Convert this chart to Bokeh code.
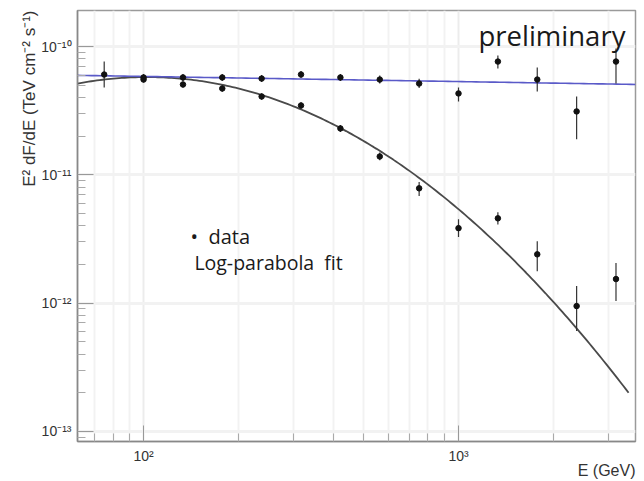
import numpy as np
from bokeh.plotting import figure
from bokeh.models import Range1d, Label, Title, CustomJSTickFormatter, ColumnDataSource, FixedTicker
from bokeh.embed import file_html
from bokeh.resources import INLINE

# ---------------- data ----------------
# energies in GeV (8 bins per decade)
energy_a = [75.0, 100.0, 133.4, 177.8, 237.1, 316.2, 421.7, 562.3, 749.9, 1000.0, 1333.5, 1778.3, 2371.4, 3162.3]
flux_a = [6.05e-11, 5.74e-11, 5.74e-11, 5.74e-11, 5.63e-11, 6.05e-11, 5.74e-11, 5.53e-11, 5.15e-11,
          4.31e-11, 7.64e-11, 5.53e-11, 3.12e-11, 7.64e-11]
flux_a_lo = [4.80e-11, 5.40e-11, 5.40e-11, 5.40e-11, 5.30e-11, 5.70e-11, 5.40e-11, 5.15e-11, 4.75e-11,
             3.73e-11, 6.74e-11, 4.47e-11, 1.89e-11, 5.15e-11]
flux_a_hi = [7.64e-11, 6.10e-11, 6.10e-11, 6.10e-11, 6.00e-11, 6.45e-11, 6.10e-11, 5.95e-11, 5.60e-11,
             4.80e-11, 8.51e-11, 6.86e-11, 4.08e-11, 9.64e-11]

energy_b = [100.0, 133.4, 177.8, 237.1, 316.2, 421.7, 562.3, 749.9, 1000.0, 1333.5, 1778.3, 2371.4, 3162.3]
flux_b = [5.53e-11, 5.06e-11, 4.71e-11, 4.08e-11, 3.47e-11, 2.30e-11, 1.39e-11, 7.85e-12, 3.84e-12,
          4.58e-12, 2.40e-12, 9.48e-13, 1.54e-12]
flux_b_lo = [5.25e-11, 4.80e-11, 4.45e-11, 3.85e-11, 3.27e-11, 2.16e-11, 1.30e-11, 6.83e-12, 3.27e-12,
             4.10e-12, 1.77e-12, 6.05e-13, 1.04e-12]
flux_b_hi = [5.85e-11, 5.35e-11, 5.00e-11, 4.32e-11, 3.68e-11, 2.45e-11, 1.49e-11, 8.79e-12, 4.51e-12,
             5.10e-12, 3.03e-12, 1.36e-12, 2.05e-12]

# fit parameters (E^2 dF/dE = 10^(a + b*u + c*u^2), u = log10(E / 100 GeV))
pl_log_norm, pl_slope = -10.233, -0.040
lp_log_norm, lp_b, lp_c = -10.238, 0.022, -1.052
pl_range = (61.7, 3647.0)
lp_range = (61.7, 3467.0)

x_major = [100, 1000]
x_minor = [70, 80, 90, 200, 300, 400, 500, 600, 700, 800, 900, 2000, 3000]
y_major = [1e-13, 1e-12, 1e-11, 1e-10]
y_minor = [m * d for d in [1e-14, 1e-13, 1e-12, 1e-11, 1e-10] for m in range(2, 10)]

x_label_text = "E (GeV)"
y_label_text = "E² dF/dE (TeV cm⁻² s⁻¹)"

# ---------------- figure ----------------
p = figure(width=644, height=481, x_axis_type="log", y_axis_type="log",
           x_range=Range1d(61.7, 3647.0), y_range=Range1d(8.34e-14, 1.91e-10),
           output_backend="svg", toolbar_location=None,
           min_border_left=77, min_border_right=9, min_border_top=10, min_border_bottom=40)

p.background_fill_color = "white"
p.outline_line_color = "#9a9a9a"
p.outline_line_width = 1.5

p.xaxis.ticker = FixedTicker(ticks=x_major, minor_ticks=x_minor)
p.yaxis.ticker = FixedTicker(ticks=y_major, minor_ticks=y_minor)

p.xgrid.grid_line_color = "#ececec"
p.xgrid.grid_line_width = 2
p.xgrid.minor_grid_line_color = "#f2f2f2"
p.xgrid.minor_grid_line_width = 2
p.ygrid.grid_line_color = "#f2f2f2"
p.ygrid.grid_line_width = 3

fmt = CustomJSTickFormatter(code="""
const e = Math.round(Math.log10(tick));
const m = {'-':'\u207b','0':'\u2070','1':'\u00b9','2':'\u00b2','3':'\u00b3','4':'\u2074','5':'\u2075','6':'\u2076','7':'\u2077','8':'\u2078','9':'\u2079'};
return '10' + String(e).split('').map(c => m[c]).join('');
""")

for ax in (p.xaxis[0], p.yaxis[0]):
    ax.formatter = fmt
    ax.axis_line_color = "#888888"
    ax.axis_line_width = 1.5
    ax.major_tick_line_color = "#999999"
    ax.minor_tick_line_color = "#aaaaaa"
    ax.major_tick_in = 16
    ax.major_tick_out = 0
    ax.minor_tick_in = 8
    ax.minor_tick_out = 0
    ax.major_label_text_font = "Liberation Sans"
    ax.major_label_text_font_size = "14px"
    ax.major_label_text_color = "#333333"
    ax.major_label_standoff = 6

# fit curves
e_pl = np.logspace(np.log10(pl_range[0]), np.log10(pl_range[1]), 120)
f_pl = 10 ** (pl_log_norm + pl_slope * np.log10(e_pl / 100.0))
e_lp = np.logspace(np.log10(lp_range[0]), np.log10(lp_range[1]), 200)
u = np.log10(e_lp / 100.0)
f_lp = 10 ** (lp_log_norm + lp_b * u + lp_c * u ** 2)

p.line(e_lp, f_lp, line_color="#4a4a4a", line_width=1.8)
p.line(e_pl, f_pl, line_color="#5a5ac8", line_width=1.6)

# data with error bars
src_a = ColumnDataSource(dict(x=energy_a, y=flux_a, lo=flux_a_lo, hi=flux_a_hi))
src_b = ColumnDataSource(dict(x=energy_b, y=flux_b, lo=flux_b_lo, hi=flux_b_hi))
for src in (src_a, src_b):
    p.segment(x0="x", x1="x", y0="lo", y1="hi", source=src, line_color="#333333", line_width=1.2)
    p.scatter(x="x", y="y", source=src, size=5.5, color="#111111")

# annotations
p.add_layout(Label(x=1157, y=1.22e-10, text="preliminary", text_font="Open Sans",
                   text_font_size="27.5px", text_color="#1a1a1a", text_baseline="alphabetic"))
p.add_layout(Label(x=141.0, y=3.32e-12, text="•\u00a0\u00a0data", text_font="Open Sans",
                   text_font_size="20px", text_color="#1a1a1a", text_baseline="alphabetic"))
p.add_layout(Label(x=145.0, y=2.09e-12, text="Log-parabola\u00a0\u00a0fit", text_font="Open Sans",
                   text_font_size="19.5px", text_color="#1a1a1a", text_baseline="alphabetic"))

p.add_layout(Title(text=x_label_text, align="right", text_font="Liberation Sans",
                   text_font_size="16px", text_font_style="normal", text_color="#333333",
                   standoff=-14), "below")
p.add_layout(Title(text=y_label_text, align="right", text_font="Liberation Sans",
                   text_font_size="17px", text_font_style="normal", text_color="#333333",
                   standoff=0), "left")

open("out.html", "w").write(file_html(p, INLINE))
